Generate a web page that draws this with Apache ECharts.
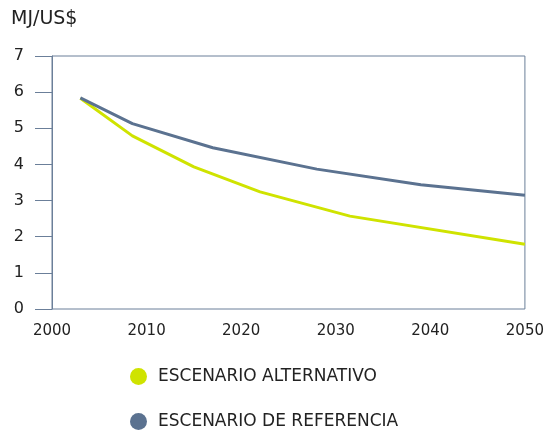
<!DOCTYPE html>
<html><head><meta charset="utf-8">
<script src="https://cdn.jsdelivr.net/npm/echarts@6/dist/echarts.min.js"></script>
<style>html,body{margin:0;padding:0;background:#fff}#c{width:547px;height:430px}</style>
</head><body><div id="c"></div>
<script>
const altYears = [2003, 2008.5, 2015, 2022, 2031.5, 2050];
const altValues = [5.83, 4.79, 3.93, 3.24, 2.57, 1.79];
const refYears = [2003, 2008.5, 2017, 2028, 2039, 2050];
const refValues = [5.84, 5.13, 4.46, 3.87, 3.44, 3.15];
const seriesNames = ['ESCENARIO ALTERNATIVO', 'ESCENARIO DE REFERENCIA'];
const unitLabel = 'MJ/US$';

const axisColor = '#6b7f99';
const legendText = { fontSize: 17, color: '#222', fontFamily: 'DejaVu Sans', padding: [0,0,0,6] };
const chart = echarts.init(document.getElementById('c'));
chart.setOption({
  animation: false,
  textStyle: { fontFamily: 'DejaVu Sans' },
  grid: { left: 52, right: 22, top: 56, bottom: 121, show: true, borderColor: axisColor, borderWidth: 1 },
  graphic: [{ type: 'text', left: 11, top: 10, style: { text: unitLabel, font: '19px "DejaVu Sans"', fill: '#222' } }],
  xAxis: {
    type: 'value', min: 2000, max: 2050, interval: 10,
    axisLine: { show: false }, axisTick: { show: false }, splitLine: { show: false },
    axisLabel: { margin: 15, fontSize: 15, color: '#222', fontFamily: 'DejaVu Sans', formatter: v => String(v) }
  },
  yAxis: {
    type: 'value', min: 0, max: 7, interval: 1,
    axisLine: { show: true, lineStyle: { color: axisColor, width: 1 } },
    axisTick: { show: true, length: 17, lineStyle: { color: axisColor, width: 1 } },
    splitLine: { show: false },
    axisLabel: { margin: 28, fontSize: 16, color: '#222', fontFamily: 'DejaVu Sans' }
  },
  legend: [
    { left: 130, top: 368, padding: 0, icon: 'circle', itemWidth: 17, itemHeight: 17,
      textStyle: legendText, data: [seriesNames[0]] },
    { left: 130, top: 413, padding: 0, icon: 'circle', itemWidth: 17, itemHeight: 17,
      textStyle: legendText, data: [seriesNames[1]] }
  ],
  series: [
    { name: seriesNames[0], type: 'line', showSymbol: false, symbol: 'none',
      data: altYears.map((y, i) => [y, altValues[i]]),
      itemStyle: { color: '#cfe300' }, lineStyle: { color: '#cfe300', width: 3 } },
    { name: seriesNames[1], type: 'line', showSymbol: false, symbol: 'none',
      data: refYears.map((y, i) => [y, refValues[i]]),
      itemStyle: { color: '#5b7290' }, lineStyle: { color: '#5b7290', width: 3 } }
  ]
});
</script></body></html>
